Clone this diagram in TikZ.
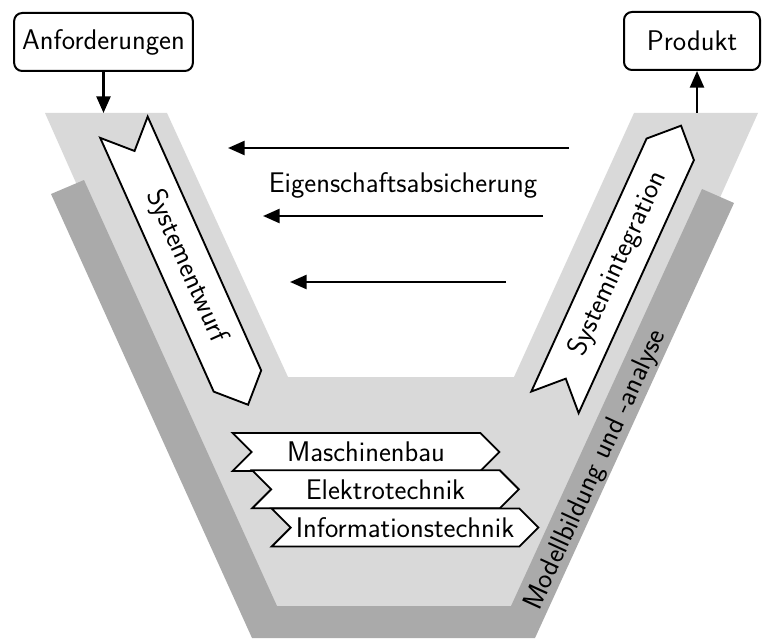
\documentclass[tikz,border=0pt]{standalone}
\usetikzlibrary{shapes.symbols,arrows.meta}
\definecolor{vlight}{RGB}{217,217,217}
\definecolor{vdark}{RGB}{170,170,170}
\begin{document}
\begin{tikzpicture}[x=0.75pt,y=-0.75pt,
  font=\sffamily\fontsize{21.3}{25}\selectfont,
  box/.style={draw,rounded corners=6pt,line width=1.5pt,inner sep=0pt,minimum height=43.5pt},
  flow/.style={line width=1.9pt,-{Triangle[length=12.5pt,width=10.5pt]}},
  banner/.style={signal,signal to=east,signal from=west,draw,fill=white,line width=1.4pt,inner sep=0pt},
  vbanner/.style={banner,minimum width=228pt,minimum height=39pt},
  hbanner/.style={banner,minimum width=200pt,minimum height=28.5pt},
]
\useasboundingbox (0,0) rectangle (762,638);
% V-shaped process area
\fill[vlight] (45,113) -- (167,113) -- (288,377) -- (514,377) -- (634,113)
  -- (758,113) -- (530,620) -- (270,620) -- cycle;
% band for modelling and analysis
\fill[vdark] (51,194) -- (252,638) -- (535,638) -- (734,203) -- (702,189)
  -- (511,606) -- (277,606) -- (84,180) -- cycle;
\node[rotate=65.5] (mod) at (596,470) {Modellbildung und -analyse};

% input and output
\node[box,minimum width=134pt] (anf) at (103.5,42) {Anforderungen};
\node[box,minimum width=102pt] (prod) at (692,41) {Produkt};
\coordinate (in) at (103.5,113);
\coordinate (out) at (697,113);
\draw[flow] (anf) -- (in);
\draw[flow] (out) -- (out |- prod.south);

% the two branches of the V
\node[vbanner,rotate=-65.9] (entwurf) at (186,266) {Systementwurf};
\node[vbanner,rotate=65.5] (integ) at (618,264) {Systemintegration};

% property assurance
\coordinate (a1) at (569,148);
\coordinate (b1) at (228,148);
\coordinate (a2) at (543,216);
\coordinate (b2) at (263,216);
\coordinate (a3) at (506,282);
\coordinate (b3) at (290,282);
\draw[flow] (a1) -- (b1);
\draw[flow] (a2) -- (b2);
\draw[flow] (a3) -- (b3);
\node (eig) at (403,185) {Eigenschaftsabsicherung};

% domains
\node[hbanner] (mb) at (366,452) {Maschinenbau};
\node[hbanner] (et) at (385.5,489.3) {Elektrotechnik};
\node[hbanner] (it) at (405,527.5) {Informationstechnik};
\end{tikzpicture}
\end{document}
